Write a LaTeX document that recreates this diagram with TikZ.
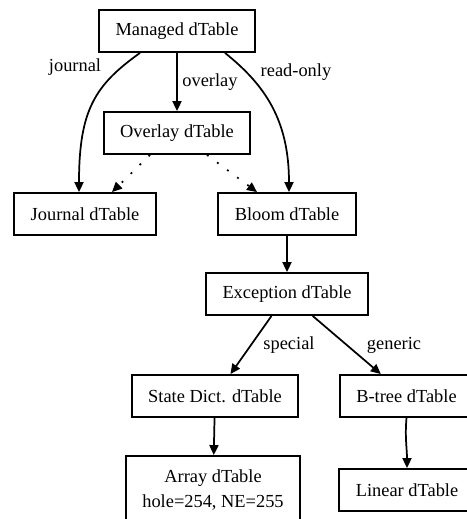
\documentclass[tikz,border=0pt]{standalone}
\usepackage{fontspec}
\setmainfont{Liberation Serif}
\usepackage{tikz}
\usetikzlibrary{arrows.meta,positioning,calc}

\begin{document}
\begin{tikzpicture}[x=0.75pt,y=-0.75pt,
  tbl/.style={draw,line width=1.4pt,rectangle,minimum height=31.5pt,inner xsep=12.4pt,inner ysep=3pt,align=center,font=\fontsize{13.8pt}{18.75pt}\selectfont},
  lbl/.style={inner sep=0pt,font=\fontsize{13.8pt}{16pt}\selectfont},
  arr/.style={-{Triangle[length=7.5pt,width=6.8pt]},line width=1.3pt},
  dots/.style={arr,dash pattern=on 1.4pt off 8pt}]
  \useasboundingbox (0,0) rectangle (467,519);
  \clip (0,0) rectangle (467,519);

  \node[tbl] (mng) at (177,31) {Managed dTable};
  \node[tbl] (ovl) at (177,133) {Overlay dTable};
  \node[tbl] (jnl) at (85,214) {Journal dTable};
  \node[tbl] (blm) at (287,214) {Bloom dTable};
  \node[tbl] (exc) at (287,294) {Exception dTable};
  \node[tbl] (sdt) at (215,396) {State Dict. dTable};
  \node[tbl] (btr) at (406.5,396) {B-tree dTable};
  \node[tbl,minimum height=51pt] (ary) at (213,490) {Array dTable\\hole=254, NE=255};
  \node[tbl] (lin) at (407,490) {Linear dTable};

  \node[lbl] (ljnl) at (75,67) {journal};
  \node[lbl] (lovl) at (210,82) {overlay};
  \node[lbl] (lrdo) at (296,72) {read-only};
  \node[lbl] (lspc) at (289,345) {special};
  \node[lbl] (lgen) at (394,345) {generic};

  \draw[arr] ([xshift=-27.75pt]mng.south) .. controls (95,85) and (79,110) .. ([xshift=-4.5pt]jnl.north);
  \draw[arr] (mng) -- (ovl);
  \draw[arr] ([xshift=36pt]mng.south) .. controls (265,85) and (289,120) .. ([xshift=1.5pt]blm.north);
  \draw[dots] ([xshift=-20.25pt]ovl.south) -- ([xshift=20.25pt]jnl.north);
  \draw[dots] ([xshift=22.5pt]ovl.south) -- ([xshift=-22.5pt]blm.north);
  \draw[arr] (blm) -- (exc);
  \draw[arr] (exc) -- (sdt);
  \draw[arr] (exc) -- (btr);
  \draw[arr] (sdt) -- (ary);
  \draw[arr] (btr.south) to[out=-95,in=90] (lin.north);
\end{tikzpicture}
\end{document}
